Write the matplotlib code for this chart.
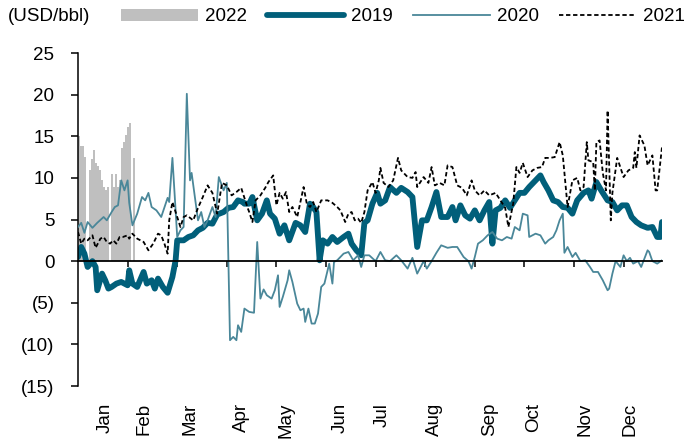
import matplotlib.pyplot as plt
from matplotlib.ticker import FixedLocator, FuncFormatter

plt.rcParams['font.family'] = ['Liberation Sans', 'DejaVu Sans']

# --- data (x = day position along the year, y = USD/bbl) ---
d2022 = [0.6, 1.8, 3.0, 4.2, 7.3, 8.5, 9.8, 11.0, 12.3, 13.5, 14.8, 16.0, 17.3,
         18.5, 21.0, 22.3, 23.5, 24.8, 26.0, 27.3, 28.5, 29.8, 31.0, 32.3, 35.1]
v2022 = [15.0, 13.8, 13.8, 12.5, 11.0, 12.3, 13.3, 11.8, 11.4, 10.9, 9.7, 8.9, 8.6,
         8.9, 10.5, 8.9, 10.5, 8.9, 9.7, 13.6, 14.3, 15.1, 16.1, 16.6, 12.4]

d2019 = [0, 2, 4, 6, 9, 11, 12, 15, 17, 19, 21, 24, 27, 31, 32, 34, 37, 41, 43, 46,
         48, 50, 53, 56, 59, 61, 62, 66, 69, 72, 75, 78, 81, 84, 87, 91, 94, 97, 100,
         103, 104, 107, 109, 112, 115, 118, 120, 123, 126, 129, 132, 136, 139, 142,
         145, 147, 149, 151, 153, 156, 159, 162, 166, 169, 171, 174, 177, 179, 181,
         184, 187, 189, 192, 195, 199, 202, 206, 209, 212, 215, 218, 221, 224, 227,
         231, 234, 236, 239, 242, 245, 248, 251, 254, 257, 259, 261, 264, 267, 270,
         273, 276, 279, 282, 286, 289, 291, 294, 297, 300, 303, 306, 309, 312, 316,
         319, 321, 324, 327, 331, 334, 337, 340, 343, 346, 349, 352, 356, 359, 362,
         364, 365]
v2019 = [0.5, 1.7, 0.9, -0.7, 0.0, -0.7, -3.5, -1.5, -2.3, -3.3, -3.1, -2.7, -2.5,
         -2.9, -1.1, -2.7, -3.1, -1.3, -2.7, -2.3, -3.3, -2.1, -3.1, -3.8, -1.9, 0.1,
         2.5, 2.5, 2.9, 3.1, 3.7, 4.0, 4.6, 4.5, 5.6, 5.9, 6.4, 6.5, 7.3, 7.1, 6.9,
         6.9, 7.7, 4.9, 5.7, 7.3, 5.7, 5.1, 3.3, 4.3, 2.5, 4.6, 4.3, 3.5, 6.9, 6.5,
         5.9, 0.1, 2.5, 2.1, 2.9, 2.3, 2.9, 3.3, 2.1, 1.3, 0.7, 4.6, 4.9, 6.9, 8.2,
         6.9, 7.3, 8.9, 8.2, 8.8, 8.3, 7.7, 1.7, 4.9, 4.9, 6.5, 8.3, 5.3, 5.3, 6.5,
         4.9, 6.7, 5.5, 5.1, 6.1, 4.9, 6.1, 7.1, 2.1, 6.1, 6.4, 7.3, 6.4, 7.3, 8.2,
         8.2, 8.9, 9.7, 10.3, 9.5, 8.5, 7.3, 7.1, 6.5, 6.4, 5.7, 7.3, 8.2, 8.5, 7.5,
         9.5, 8.5, 7.3, 7.1, 6.1, 6.7, 6.7, 5.3, 4.7, 4.3, 4.0, 4.1, 2.9, 2.9, 4.7]

d2020 = [0, 2, 4, 6, 9, 12, 16, 18, 21, 23, 25, 27, 29, 31, 32, 34, 37, 40, 42, 44,
         46, 49, 52, 56, 57, 59, 62, 64, 66, 68, 70, 71, 73, 75, 77, 79, 81, 84, 86,
         88, 91, 93, 95, 97, 99, 100, 102, 104, 107, 110, 112, 114, 116, 118, 121,
         123, 125, 126, 128, 131, 132, 134, 137, 139, 141, 142, 144, 146, 148, 150,
         152, 154, 156, 157, 159, 160, 162, 166, 169, 172, 175, 177, 179, 182, 186,
         189, 192, 195, 199, 202, 206, 209, 212, 216, 218, 221, 224, 227, 231, 234,
         237, 241, 244, 246, 248, 250, 253, 256, 259, 262, 265, 268, 271, 273, 276,
         278, 281, 282, 286, 289, 292, 294, 297, 299, 301, 303, 304, 306, 309, 311,
         314, 317, 320, 322, 325, 328, 331, 332, 334, 336, 339, 341, 343, 345, 347,
         350, 352, 356, 357, 359, 362, 365]
v2020 = [4.1, 4.6, 3.4, 4.7, 4.0, 4.6, 5.3, 4.9, 5.9, 6.5, 6.7, 9.7, 8.5, 9.7, 7.0,
         4.3, 5.7, 7.7, 7.3, 8.2, 6.5, 6.1, 5.3, 7.6, 7.1, 12.4, 2.9, 3.7, 4.1, 20.1,
         9.7, 10.6, 7.7, 4.9, 5.9, 4.1, 4.9, 6.5, 5.3, 10.1, 8.5, 9.4, -9.5, -9.1,
         -9.5, -7.7, -8.5, -5.7, -6.1, -6.2, 2.3, -4.5, -3.4, -4.1, -4.5, -3.5, -1.7,
         -5.5, -4.3, -2.3, -1.1, -2.5, -5.1, -5.9, -5.7, -7.3, -5.7, -7.5, -7.5, -6.3,
         -3.1, -2.7, -1.1, -0.3, -2.7, -0.1, 0.1, 0.9, 1.1, 0.1, 0.7, -0.7, 0.7, 0.7,
         0.0, 1.1, 0.1, 0.0, 0.7, 0.1, -0.9, 0.4, -1.5, 0.0, -0.9, 0.0, 1.0, 1.9, 1.6,
         1.7, 1.7, 0.5, 0.0, -0.9, 0.5, 2.1, 2.5, 3.1, 3.5, 2.7, 2.5, 2.9, 2.7, 4.1,
         3.7, 5.7, 5.5, 2.9, 3.3, 3.1, 2.1, 2.5, 2.9, 3.7, 4.9, 5.7, 1.0, 1.7, 0.5,
         1.0, 0.0, 0.1, -0.7, -1.3, -1.3, -2.3, -3.5, -3.3, -1.5, 0.0, -0.7, 0.7, 0.0,
         0.4, -0.3, 0.0, -0.7, 1.3, 1.1, 0.0, -0.3, 0.1]

d2021 = [0, 2, 4, 6, 9, 11, 14, 16, 18, 20, 22, 24, 26, 28, 31, 32, 34, 37, 41, 44,
         47, 50, 52, 54, 56, 57, 59, 62, 64, 66, 68, 72, 75, 78, 81, 84, 87, 90, 93,
         96, 99, 102, 106, 107, 109, 111, 114, 117, 119, 122, 124, 126, 128, 130, 132,
         134, 137, 139, 141, 143, 145, 147, 149, 152, 156, 159, 162, 164, 167, 169,
         171, 173, 175, 177, 179, 181, 184, 186, 188, 189, 191, 194, 197, 200, 202,
         206, 209, 211, 212, 216, 219, 221, 223, 226, 229, 231, 234, 237, 240, 243,
         246, 248, 251, 254, 257, 261, 264, 267, 269, 272, 274, 276, 278, 281, 284,
         287, 290, 292, 295, 298, 301, 303, 306, 309, 312, 314, 316, 318, 319, 322,
         323, 324, 326, 328, 330, 331, 333, 334, 337, 341, 344, 347, 348, 349, 351,
         354, 356, 359, 361, 362, 365]
v2021 = [3.5, 2.1, 2.7, 2.5, 3.1, 1.6, 2.7, 2.9, 2.3, 2.1, 2.5, 2.1, 2.9, 2.9, 3.1,
         2.7, 3.3, 2.7, 2.3, 1.3, 2.1, 3.3, 3.1, 2.1, 0.9, 4.9, 7.1, 5.3, 4.1, 5.3,
         5.5, 4.9, 6.4, 7.7, 9.1, 8.2, 5.7, 9.4, 9.1, 7.9, 8.3, 8.8, 6.4, 5.9, 4.7,
         7.3, 7.9, 8.8, 9.5, 10.3, 6.7, 8.2, 7.5, 8.3, 5.9, 6.5, 5.3, 7.1, 8.9, 6.9,
         6.5, 7.1, 5.9, 7.3, 7.3, 7.0, 6.5, 6.1, 4.7, 5.7, 5.9, 4.9, 5.1, 4.6, 5.9,
         8.5, 9.5, 8.2, 9.7, 11.2, 9.4, 8.9, 9.7, 12.4, 10.9, 10.1, 10.0, 10.7, 8.9,
         10.1, 9.4, 11.3, 9.1, 9.4, 9.1, 11.5, 11.3, 9.1, 8.8, 7.9, 9.7, 8.5, 7.9,
         8.5, 7.9, 8.2, 7.3, 6.4, 4.1, 6.9, 11.3, 10.6, 11.8, 10.1, 10.9, 11.2, 11.3,
         12.4, 12.4, 12.5, 14.3, 12.7, 6.5, 9.7, 10.0, 8.5, 8.9, 14.3, 12.1, 11.9,
         8.5, 14.3, 14.5, 10.6, 8.5, 18.1, 4.9, 8.2, 12.4, 10.1, 10.9, 11.2, 13.1,
         11.2, 15.1, 13.9, 11.5, 12.7, 8.5, 8.5, 13.7]

month_pos = [17, 41, 70, 102, 130, 164, 190, 223, 257, 285, 317, 345]
month_lbl = ['Jan', 'Feb', 'Mar', 'Apr', 'May', 'Jun', 'Jul', 'Aug', 'Sep', 'Oct',
             'Nov', 'Dec']

c2019 = '#015f7a'
c2020 = '#4a8799'
fs = 13.5

fig = plt.figure(figsize=(6.88, 4.41), dpi=100)
ax = fig.add_axes([0.1134, 0.1247, 0.8488, 0.7551])

h22 = ax.bar(d2022, v2022, width=1.25, color='#bfbfbf', linewidth=0, label='2022', zorder=1)
h19, = ax.plot(d2019, v2019, color=c2019, lw=4.2, solid_joinstyle='round',
               solid_capstyle='round', label='2019', zorder=2)
h20, = ax.plot(d2020, v2020, color=c2020, lw=1.3, label='2020', zorder=3)
h21, = ax.plot(d2021, v2021, color='black', lw=1.3, ls=(0, (2.4, 1.5)), label='2021', zorder=4)

ax.set_xlim(0, 365)
ax.set_ylim(-15, 25)
ax.set_yticks(range(-15, 26, 5))
ax.yaxis.set_major_formatter(FuncFormatter(lambda v, p: f'({abs(int(v))})' if v < 0 else f'{int(v)}'))
ax.tick_params(axis='y', direction='out', length=5, width=1.1, pad=12, labelsize=fs)

for s in ['top', 'right']:
    ax.spines[s].set_visible(False)
ax.spines['left'].set_linewidth(1.1)
ax.spines['bottom'].set_position(('data', 0))
ax.spines['bottom'].set_linewidth(1.3)
ax.spines['bottom'].set_zorder(5)
ax.xaxis.set_major_locator(FixedLocator(range(31, 365, 31)))
ax.tick_params(axis='x', direction='out', length=4, width=1.1, labelbottom=False)

sec = ax.secondary_xaxis('bottom')
sec.spines['bottom'].set_visible(False)
sec.set_xticks(month_pos)
sec.set_xticklabels(month_lbl, rotation=90)
sec.tick_params(length=0, pad=12, labelsize=fs)

fig.text(0.012, 0.962, '(USD/bbl)', fontsize=fs, va='center', ha='left')
ax.legend([h22, h19, h20, h21], ['2022', '2019', '2020', '2021'],
          loc='center right', bbox_to_anchor=(0.995, 0.962), bbox_transform=fig.transFigure,
          ncol=4, frameon=False, fontsize=fs, handlelength=4.1, handletextpad=0.35,
          columnspacing=1.1, borderpad=0, borderaxespad=0, handleheight=0.6)

fig.savefig('out.png', dpi=100)
